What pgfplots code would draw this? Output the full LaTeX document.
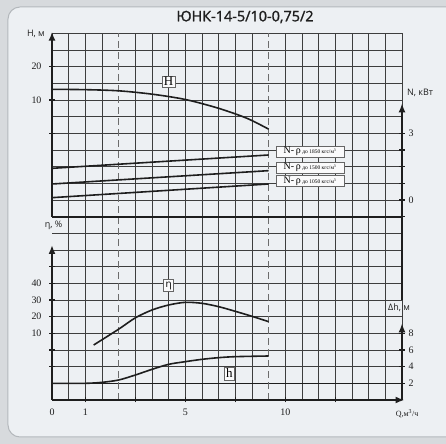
\documentclass[border=0pt]{standalone}
\usepackage{fontspec}
\setmainfont{Liberation Serif}
\newfontfamily\sansf{Open Sans}
\newfontfamily\titlef{Open Sans}[FakeBold=1.5]
\usepackage{pgfplots}
\pgfplotsset{compat=1.18}
\usetikzlibrary{arrows.meta}
\definecolor{outerbg}{HTML}{D7DADD}
\definecolor{panel}{HTML}{EDF0F3}
\definecolor{framec}{HTML}{B4B8BC}
\definecolor{gridc}{HTML}{3E3E3E}
\definecolor{ink}{HTML}{1E1E1E}
\begin{document}
\begin{tikzpicture}[x=1bp,y=1bp]
\useasboundingbox (-52,-44) rectangle (394,400);
\fill[outerbg] (-52,-44) rectangle (394,400);
\filldraw[fill=panel, draw=framec, line width=1bp, rounded corners=12bp] (-44,-37) rectangle (412,393);
\begin{scope}[x=16.6667bp,y=16.6667bp]
 \foreach \c in {1,2,3,5,6,7,8,9,10,11,12,14,15,16,17,18,19,20,21} \draw[gridc, line width=0.8bp] (\c,0) -- (\c,22);
 \draw[gridc, line width=0.8bp] (0,11) -- (0,22);
 \foreach \r in {1,...,22} \draw[gridc, line width=0.8bp] (0,\r) -- (21,\r);
 \draw[ink, line width=1.1bp] (0,1) -- (21,1);
 \foreach \c in {4,13} \draw[gray!85!black, line width=0.8bp, dash pattern=on 7bp off 4bp] (\c,0) -- (\c,22);
 % thick axes
 \draw[ink, line width=1.9bp, -{Latex[length=9bp,width=7bp]}] (0,11) -- (0,22.1);
 \draw[ink, line width=1.9bp] (0,11) -- (21,11);
 \draw[ink, line width=1.9bp, -{Latex[length=9bp,width=7bp]}] (21,6) -- (21,17.8);
 \draw[ink, line width=1.9bp, -{Latex[length=9bp,width=7bp]}] (0,0) -- (0,9.3);
 \draw[ink, line width=1.9bp, -{Latex[length=9bp,width=7bp]}] (0,0) -- (21.15,0);
 \draw[ink, line width=1.9bp, -{Latex[length=9bp,width=7bp]}] (21,0) -- (21,4.6);
 % tick marks
 \foreach \r in {16,18,20} \draw[ink, line width=1.2bp] (-0.18,\r) -- (0.18,\r);
 \foreach \r in {2,...,8} \draw[ink, line width=1.2bp] (-0.18,\r) -- (0.18,\r);
 \foreach \r in {11,...,16} \draw[ink, line width=1.2bp] (20.82,\r) -- (21.18,\r);
 \foreach \r in {1,...,4} \draw[ink, line width=1.2bp] (20.82,\r) -- (21.18,\r);
 \foreach \c in {2,5,8,11,14,17} \draw[ink, line width=1.2bp] (\c,-0.15) -- (\c,0.15);
\end{scope}

\begin{axis}[at={(0,0)}, anchor=south west, x=16.6667bp, y=16.6667bp,
  xmin=0, xmax=21, ymin=0, ymax=22, clip=false,
  axis line style={draw=none}, major tick length=0, minor tick length=0,
  xtick={0,2,8,14}, xticklabels={0,1,5,10},
  ytick={4,5,6,7,18,20}, yticklabels={10,20,30,40,10,20},
  tick label style={font=\fontsize{10}{12}\selectfont, text=ink},
  yticklabel style={xshift=-7bp},
  xticklabel style={yshift=-5bp},
  /pgf/number format/assume math mode=true]
% H curve
\addplot[ink, line width=1.6bp, smooth] coordinates {(0,18.64) (2,18.62) (4,18.55) (6,18.35) (8,18.03) (10,17.5) (11.7,16.9) (13,16.25)};
% N curves
\addplot[ink, line width=1.6bp] coordinates {(0,13.9) (13,14.7)};
\addplot[ink, line width=1.6bp] coordinates {(0,12.96) (13,13.76)};
\addplot[ink, line width=1.6bp] coordinates {(0,12.14) (13,12.96)};
% eta curve
\addplot[ink, line width=1.6bp, smooth] coordinates {(2.5,3.3) (4,4.25) (5,4.93) (6,5.4) (7,5.7) (8,5.86) (9,5.8) (10,5.6) (11,5.32) (12,5.02) (13,4.7)};
% h curve
\addplot[ink, line width=1.6bp, smooth] coordinates {(0,1) (2,1.0) (3,1.06) (4,1.2) (5,1.5) (6,1.84) (7,2.14) (8,2.3) (9,2.44) (10,2.54) (11,2.6) (13,2.64)};
\node[draw=gray!80!black, fill=white!70!panel, line width=0.6bp, inner sep=1.5bp, font=\fontsize{13}{13}\selectfont] at (axis cs:7,19.1) {H};
\node[draw=gray!80!black, fill=white!70!panel, line width=0.6bp, inner sep=2bp, font=\sansf\fontsize{10}{10}\selectfont] at (axis cs:7,6.86) {η};
\node[draw=gray!80!black, fill=white!70!panel, line width=0.6bp, inner sep=2bp, font=\fontsize{13}{13}\selectfont] at (axis cs:10.64,1.6) {h};
\end{axis}
\begin{axis}[at={(0,0)}, anchor=south west, x=16.6667bp, y=16.6667bp,
  xmin=0, xmax=21, ymin=0, ymax=22,
  axis line style={draw=none}, major tick length=0,
  xtick=\empty, ytick={1,2,3,4,12,16}, yticklabels={2,4,6,8,0,3},
  yticklabel pos=right,
  tick label style={font=\fontsize{10}{12}\selectfont, text=ink},
  yticklabel style={xshift=3bp},
  /pgf/number format/assume math mode=true]
\end{axis}
% N label boxes
\foreach \yy/\dd in {248.5/1850, 232.5/1500, 219/1050}
  \node[draw=gray!80!black, fill=white!70!panel, line width=0.6bp, inner sep=1bp, minimum width=68bp] at (258,\yy)
   {{\fontsize{10}{10}\selectfont N-\,ρ}\,{\fontsize{5.5}{6}\selectfont до \dd\ кгс/м\textsuperscript{3}}};
% axis titles
\node[anchor=east, font=\sansf\fontsize{9}{10}\selectfont, text=ink, inner sep=0pt] at (-7,366) {H, м};
\node[anchor=west, font=\sansf\fontsize{9}{10}\selectfont, text=ink, inner sep=0pt] at (355,307) {N, кВт};
\node[font=\sansf\fontsize{9}{10}\selectfont, text=ink, fill=panel, inner sep=1pt] at (1.5,175) {η, \%};
\node[font=\sansf\fontsize{9}{10}\selectfont, text=ink, inner sep=0pt] at (347,92) {Δh, м};
\node[font=\fontsize{8}{9}\selectfont, text=ink, inner sep=0pt] at (355,-14) {Q,м\textsuperscript{3}/ч};
\node[font=\titlef\fontsize{14.5}{16}\selectfont, text=ink] at (193,383) {ЮНК-14-5/10-0,75/2};
\end{tikzpicture}
\end{document}
